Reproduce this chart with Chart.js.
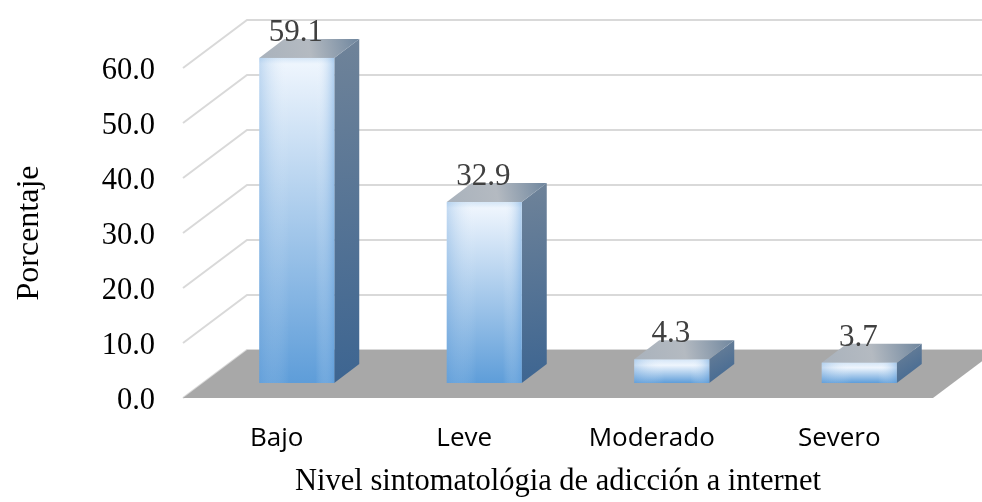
<!DOCTYPE html>
<html>
<head>
<meta charset="utf-8">
<style>
  html, body { margin: 0; padding: 0; background: #ffffff; }
  #wrap { width: 982px; height: 502px; }
</style>
<script src="https://cdn.jsdelivr.net/npm/chart.js@4/dist/chart.umd.min.js"></script>
</head>
<body>
<div id="wrap"><canvas id="c" width="982" height="502"></canvas></div>
<script>
// ---- data ----
const categories = ['Bajo', 'Leve', 'Moderado', 'Severo'];
const percentages = [59.1, 32.9, 4.3, 3.7];
const yTickValues = [0, 10, 20, 30, 40, 50, 60];
const yAxisTitle = 'Porcentaje';
const xAxisTitle = 'Nivel sintomatológia de adicción a internet';

// ---- 3D look (styles only) ----
const FLOOR_DX = 64, FLOOR_DY = 48;   // depth of the floor / back wall
const BAR_OFF_X = 20, BAR_OFF_Y = 15; // bar front plane inset
const BAR_DX = 25, BAR_DY = 19;       // bar depth

const serif = '"Liberation Serif", "Times New Roman", serif';

const threeD = {
  id: 'threeD',
  beforeDatasetsDraw(chart) {
    const {ctx, chartArea: a, scales: {y}} = chart;
    ctx.save();
    // back wall grid lines
    ctx.strokeStyle = '#d9d9d9';
    ctx.lineWidth = 2;
    y.ticks.forEach(t => {
      const py = y.getPixelForValue(t.value);
      ctx.beginPath();
      ctx.moveTo(a.left, py);
      ctx.lineTo(a.left + FLOOR_DX, py - FLOOR_DY);
      ctx.lineTo(a.right + FLOOR_DX, py - FLOOR_DY);
      ctx.stroke();
    });
    // floor
    const y0 = y.getPixelForValue(0);
    ctx.fillStyle = '#a8a8a8';
    ctx.beginPath();
    ctx.moveTo(a.left, y0);
    ctx.lineTo(a.right, y0);
    ctx.lineTo(a.right + FLOOR_DX, y0 - FLOOR_DY);
    ctx.lineTo(a.left + FLOOR_DX, y0 - FLOOR_DY);
    ctx.closePath();
    ctx.fill();
    ctx.restore();
  },
  afterDatasetsDraw(chart) {
    const {ctx} = chart;
    const meta = chart.getDatasetMeta(0);
    ctx.save();
    meta.data.forEach((bar, i) => {
      const p = bar.getProps(['x', 'y', 'base', 'width'], true);
      const xl = p.x - p.width / 2 + BAR_OFF_X;
      const xr = p.x + p.width / 2 + BAR_OFF_X;
      const top = p.y - BAR_OFF_Y;
      const bot = p.base - BAR_OFF_Y;
      const h = bot - top;

      // side face
      let g = ctx.createLinearGradient(xr, top - BAR_DY, xr + BAR_DX, bot);
      g.addColorStop(0, '#6f8399');
      g.addColorStop(1, '#3d6591');
      ctx.fillStyle = g;
      ctx.beginPath();
      ctx.moveTo(xr, top);
      ctx.lineTo(xr + BAR_DX, top - BAR_DY);
      ctx.lineTo(xr + BAR_DX, bot - BAR_DY);
      ctx.lineTo(xr, bot);
      ctx.closePath();
      ctx.fill();

      // top face
      g = ctx.createLinearGradient(xl, top, xr + BAR_DX, top - BAR_DY);
      g.addColorStop(0, '#a9b2bc');
      g.addColorStop(0.5, '#b4bac1');
      g.addColorStop(1, '#6f869e');
      ctx.fillStyle = g;
      ctx.beginPath();
      ctx.moveTo(xl, top);
      ctx.lineTo(xl + BAR_DX, top - BAR_DY);
      ctx.lineTo(xr + BAR_DX, top - BAR_DY);
      ctx.lineTo(xr, top);
      ctx.closePath();
      ctx.fill();

      // front face
      g = ctx.createLinearGradient(0, top, 0, bot);
      g.addColorStop(0, '#d5e6f7');
      g.addColorStop(Math.min(0.25, 6 / Math.max(h, 1)), '#eef5fd');
      g.addColorStop(1, '#5e9dd9');
      ctx.fillStyle = g;
      ctx.fillRect(xl, top, xr - xl, h);
      g = ctx.createLinearGradient(xl, 0, xr, 0);
      g.addColorStop(0, 'rgba(110,165,220,0.35)');
      g.addColorStop(0.4, 'rgba(255,255,255,0.0)');
      g.addColorStop(0.75, 'rgba(255,255,255,0.0)');
      g.addColorStop(1, 'rgba(100,160,220,0.45)');
      ctx.fillStyle = g;
      ctx.fillRect(xl, top, xr - xl, h);

      // value label
      ctx.fillStyle = '#404040';
      ctx.font = '31px ' + serif;
      ctx.textAlign = 'center';
      ctx.textBaseline = 'alphabetic';
      ctx.fillText(percentages[i].toFixed(1), (xl + xr) / 2 - 1, top - 17);
    });
    ctx.restore();
  }
};

new Chart(document.getElementById('c'), {
  type: 'bar',
  data: {
    labels: categories,
    datasets: [{
      data: percentages,
      backgroundColor: 'rgba(0,0,0,0)',
      borderWidth: 0,
      barPercentage: 0.4,
      categoryPercentage: 1.0
    }]
  },
  options: {
    responsive: false,
    animation: false,
    devicePixelRatio: 1,
    layout: { padding: { top: 68, right: 49, left: 0, bottom: 0 } },
    plugins: { legend: { display: false }, tooltip: { enabled: false } },
    scales: {
      x: {
        grid: { display: false, drawTicks: false },
        border: { display: false },
        ticks: {
          color: '#000000',
          padding: 25,
          font: { family: '"Open Sans", Calibri, sans-serif', size: 26 }
        },
        title: {
          display: true,
          text: xAxisTitle,
          color: '#000000',
          font: { family: serif, size: 30.5 },
          padding: { top: 0, bottom: 2 }
        },
        afterFit(scale) { scale.height = 104; }
      },
      y: {
        min: 0,
        max: 60,
        grid: { display: false, drawTicks: false },
        border: { display: false },
        afterBuildTicks(scale) { scale.ticks = yTickValues.map(v => ({ value: v })); },
        ticks: {
          color: '#000000',
          padding: 28,
          labelOffset: 3,
          font: { family: serif, size: 30.5 },
          callback: v => Number(v).toFixed(1)
        },
        title: {
          display: true,
          text: yAxisTitle,
          color: '#000000',
          font: { family: serif, size: 32 },
          padding: { top: 10, bottom: 0 }
        },
        afterFit(scale) { scale.width = 183; }
      }
    }
  },
  plugins: [threeD]
});
</script>
</body>
</html>
